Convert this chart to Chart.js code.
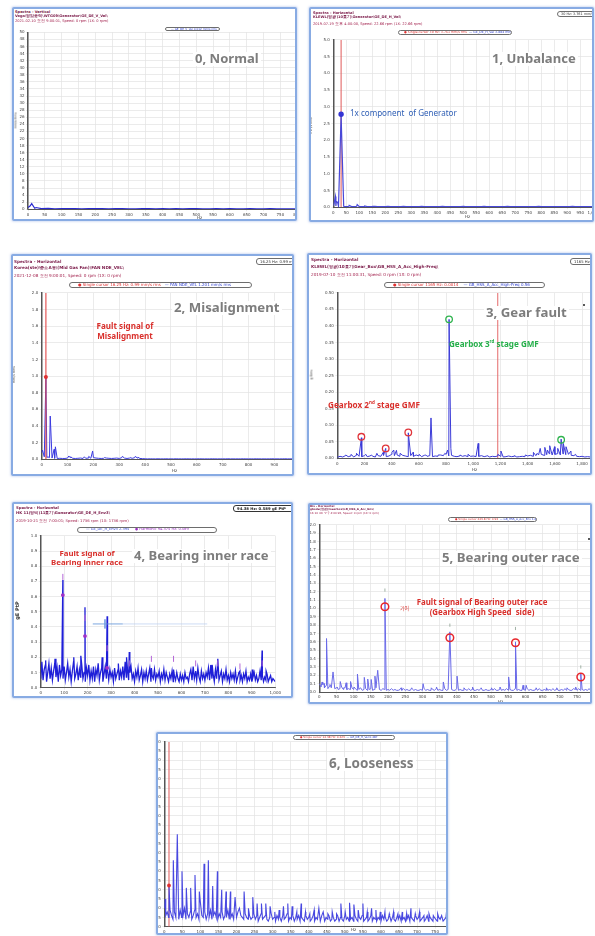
<!DOCTYPE html>
<html>
<head>
<meta charset="utf-8">
<script src="https://cdn.jsdelivr.net/npm/chart.js@4.4.1/dist/chart.umd.min.js"></script>
<style>
  body { margin:0; width:595px; height:936px; background:#fff; position:relative; overflow:hidden; font-family:"Noto Sans", sans-serif; }
  .panel { position:absolute; box-sizing:border-box; border:2px solid #88abe3; border-radius:2px; overflow:hidden; background:#fff; box-shadow:0 0 2px 1px rgba(140,170,225,0.35); }
  .panel canvas { position:absolute; }
  .t { position:absolute; white-space:nowrap; line-height:1; }
  .hdr { font-family:"DejaVu Sans", sans-serif; font-size:4px; color:#7b1a49; font-weight:700; }
  .hdr.r { font-weight:400; color:#a3224e; }
  .pill { box-sizing:border-box; border:0.8px solid #6d6d6d; border-radius:3px; background:#fff; font-family:"DejaVu Sans", sans-serif; font-size:3.4px; padding:0 5px; color:#3344cc; overflow:hidden; }
  .title { font-weight:700; color:#7d7d7d; background:#fff; padding:0 2px; font-size:16px; }
  .note { font-weight:700; font-size:9px; line-height:1.25; text-align:center; }
  .small { font-family:"DejaVu Sans", sans-serif; font-size:4px; color:#333; }
</style>
</head>
<body>
<script>
// ---------- 0, Normal (mm/s rms) ----------
const NORMAL_STEP = 20;
const NORMAL_FLOOR = [0.5,0.3,0.2,0.25,0.15,0.2,0.18,0.22,0.15,0.2,
  0.17,0.2,0.15,0.18,0.2,0.16,0.15,0.19,0.17,0.15,
  0.2,0.16,0.18,0.15,0.17,0.19,0.15,0.16,0.18,0.15,
  0.17,0.16,0.15,0.18,0.16,0.15,0.17,0.16,0.15,0.16,
  0.15];
const NORMAL_PEAK_HZ = [6, 11, 24];
const NORMAL_PEAK_AMP = [0.9, 1.6, 0.5];

// ---------- 1, Unbalance ----------
const UNB_STEP = 10;
const UNB_FLOOR = [0.05,0.04,0.03,0.05,0.03,0.02,0.03,0.02,0.02,0.03,
  0.02,0.02,0.03,0.02,0.02,0.02,0.03,0.02,0.02,0.02,
  0.02,0.03,0.02,0.02,0.02,0.02,0.02,0.03,0.02,0.02,
  0.02,0.02,0.02,0.02,0.03,0.02,0.02,0.02,0.02,0.02,
  0.02,0.02,0.03,0.02,0.02,0.02,0.02,0.02,0.02,0.02,
  0.03,0.02,0.02,0.02,0.02,0.02,0.02,0.02,0.03,0.02,
  0.02,0.02,0.02,0.02,0.02,0.02,0.02,0.03,0.02,0.02,
  0.02,0.02,0.02,0.02,0.02,0.02,0.02,0.02,0.02,0.03,
  0.02,0.02,0.02,0.02,0.02,0.02,0.02,0.02,0.02,0.02,
  0.02,0.02,0.03,0.02,0.02,0.02,0.02,0.02,0.02,0.02,
  0.02];
const UNB_PEAK_HZ = [3, 8, 12, 17, 30, 61, 92, 121, 152];
const UNB_PEAK_AMP = [0.12, 0.32, 0.18, 0.14, 2.75, 0.06, 0.08, 0.04, 0.03];
const UNB_CURSOR_HZ = 30;
const UNB_MARK = [30, 2.78];

// ---------- 2, Misalignment ----------
const MIS_STEP = 10;
const MIS_FLOOR = [0.08,0.03,0.02,0.02,0.015,0.012,0.01,0.012,0.01,0.01,
  0.015,0.02,0.012,0.01,0.012,0.015,0.01,0.012,0.015,0.012,
  0.02,0.015,0.012,0.01,0.012,0.015,0.012,0.01,0.012,0.015,
  0.01,0.02,0.015,0.01,0.015,0.012,0.02,0.015,0.01,0.008,
  0.006,0.005,0.006,0.005,0.005,0.006,0.005,0.005,0.006,0.005,
  0.005,0.005,0.006,0.005,0.005,0.005,0.006,0.005,0.005,0.005,
  0.005,0.006,0.005,0.005,0.005,0.005,0.006,0.005,0.005,0.005,
  0.005,0.005,0.006,0.005,0.005,0.005,0.005,0.005,0.006,0.005,
  0.005,0.005,0.005,0.006,0.005,0.005,0.005,0.005,0.005,0.006,
  0.005,0.005,0.005,0.005,0.006,0.005,0.005,0.005,0.005,0.005,
  0.005];
const MIS_PEAK_HZ = [3, 16.25, 24, 33, 48, 53, 105, 112, 165, 182, 197, 243, 312, 342, 362, 372];
const MIS_PEAK_AMP = [0.11, 0.99, 0.03, 0.52, 0.12, 0.15, 0.04, 0.03, 0.03, 0.035, 0.1, 0.02, 0.035, 0.02, 0.035, 0.025];
const MIS_CURSOR = [16.25, 0.99];

// ---------- 3, Gear fault ----------
const GEAR_STEP = 20;
const GEAR_FLOOR = [0.003,0.006,0.004,0.008,0.005,0.007,0.004,0.009,0.006,0.005,
  0.008,0.005,0.007,0.006,0.004,0.008,0.006,0.009,0.005,0.007,
  0.012,0.008,0.01,0.006,0.009,0.007,0.005,0.008,0.006,0.01,
  0.007,0.005,0.009,0.006,0.008,0.005,0.007,0.006,0.01,0.008,
  0.012,0.007,0.009,0.006,0.005,0.007,0.006,0.008,0.005,0.006,
  0.007,0.005,0.006,0.008,0.005,0.007,0.004,0.006,0.005,0.007,
  0.006,0.004,0.005,0.007,0.005,0.006,0.004,0.005,0.006,0.005,
  0.007,0.009,0.006,0.008,0.01,0.012,0.009,0.011,0.013,0.01,
  0.012,0.014,0.01,0.013,0.011,0.012,0.009,0.008,0.006,0.005,
  0.006,0.004,0.005,0.004,0.005,0.004,0.003,0.004,0.003,0.004,
  0.003];
const GEAR_PEAK_HZ = [62,102,141,177,210,252,291,338,356,402,415,435,462,522,557,602,651,689,742,791,811,822,835,902,961,1036,1102,1181,1203,1302,1383,1442,1470,1492,1526,1545,1562,1598,1621,1646,1662,1682,1718,1752];
const GEAR_PEAK_AMP = [0.01,0.012,0.015,0.062,0.012,0.01,0.015,0.018,0.03,0.018,0.025,0.024,0.015,0.077,0.018,0.012,0.01,0.122,0.01,0.015,0.025,0.42,0.03,0.01,0.012,0.045,0.008,0.012,0.022,0.008,0.01,0.018,0.015,0.03,0.033,0.025,0.038,0.035,0.03,0.058,0.045,0.035,0.022,0.012];
const GEAR_CURSOR_HZ = 1180;
const GEAR_RED_RING_HZ = [177, 356, 522];
const GEAR_RED_RING_Y = [0.065, 0.03, 0.078];
const GEAR_GREEN_RING_HZ = [822, 1646];
const GEAR_GREEN_RING_Y = [0.42, 0.056];

// ---------- 4, Bearing inner race (gE PtP) ----------
const INNER_STEP = 5;
const INNER_FLOOR = [0.06,0.17,0.05,0.12,0.15,0.04,0.10,0.16,0.06,0.13,
  0.05,0.11,0.16,0.07,0.13,0.04,0.15,0.08,0.12,0.06,
  0.14,0.05,0.10,0.16,0.07,0.12,0.04,0.11,0.17,0.06,
  0.09,0.14,0.05,0.12,0.07,0.15,0.06,0.10,0.04,0.13,
  0.08,0.15,0.05,0.11,0.06,0.14,0.04,0.12,0.08,0.16,
  0.05,0.10,0.13,0.04,0.09,0.14,0.06,0.11,0.05,0.12,
  0.07,0.10,0.04,0.13,0.06,0.09,0.12,0.05,0.11,0.07,
  0.14,0.05,0.17,0.07,0.12,0.05,0.10,0.14,0.06,0.09,
  0.04,0.11,0.07,0.13,0.05,0.08,0.12,0.04,0.10,0.06,
  0.11,0.05,0.09,0.13,0.04,0.08,0.06,0.12,0.05,0.09,
  0.07,0.11,0.04,0.09,0.06,0.12,0.05,0.10,0.07,0.04,
  0.09,0.06,0.11,0.04,0.08,0.05,0.10,0.06,0.04,0.09,
  0.05,0.08,0.04,0.10,0.06,0.07,0.04,0.09,0.12,0.05,
  0.14,0.06,0.10,0.05,0.13,0.07,0.04,0.11,0.06,0.09,
  0.05,0.10,0.07,0.13,0.05,0.15,0.06,0.09,0.04,0.12,
  0.06,0.10,0.05,0.08,0.11,0.04,0.09,0.06,0.12,0.05,
  0.08,0.04,0.10,0.06,0.09,0.05,0.11,0.04,0.07,0.10,
  0.05,0.08,0.04,0.09,0.06,0.11,0.04,0.07,0.05,0.09,
  0.04,0.07,0.10,0.05,0.08,0.04,0.06,0.11,0.05,0.08,
  0.04,0.07,0.05,0.09,0.04,0.06,0.08,0.04,0.06,0.05,
  0.04];
const INNER_PEAK_HZ = [21, 61, 94.4, 141, 171, 188.8, 262, 283.1, 331, 366, 377.5, 471.9, 566.3, 660.6, 731, 755, 849.4, 902, 943.8, 961];
const INNER_PEAK_AMP = [0.18, 0.19, 0.71, 0.2, 0.21, 0.53, 0.2, 0.47, 0.16, 0.2, 0.235, 0.13, 0.12, 0.11, 0.15, 0.19, 0.11, 0.12, 0.245, 0.11];
const INNER_HARM_HZ = [94.4, 188.8, 283.1, 377.5, 471.9, 566.3, 660.6, 755, 849.4, 943.8];
const INNER_HARM_LABEL_Y = [0.73, 0.46, 0.26, 0.16, 0.19, 0.19, 0.16, 0.16, 0.14, 0.16];
const INNER_HARM_DOT_Y = [0.61, 0.34, 0.13];
const INNER_CROSS_HZ = [222, 350, 710];
const INNER_CROSS_Y = 0.42;
const INNER_CROSS_V = [274, 0.45, 0.39];

// ---------- 5, Bearing outer race ----------
const OUTER_STEP = 5;
const OUTER_FLOOR = [0.1,0.06,0.09,0.05,0.08,0.04,0.07,0.05,0.06,0.04,
  0.05,0.03,0.04,0.06,0.03,0.05,0.03,0.04,0.03,0.05,
  0.03,0.04,0.02,0.03,0.05,0.02,0.03,0.04,0.02,0.03,
  0.04,0.02,0.03,0.05,0.02,0.03,0.02,0.04,0.03,0.02,
  0.03,0.02,0.04,0.02,0.03,0.02,0.02,0.03,0.02,0.04,
  0.02,0.03,0.02,0.02,0.04,0.02,0.03,0.02,0.02,0.03,
  0.02,0.04,0.02,0.03,0.02,0.02,0.03,0.02,0.04,0.02,
  0.03,0.02,0.02,0.04,0.02,0.03,0.02,0.03,0.02,0.02,
  0.04,0.02,0.03,0.02,0.02,0.03,0.02,0.04,0.02,0.03,
  0.02,0.02,0.03,0.02,0.04,0.02,0.02,0.03,0.02,0.02,
  0.03,0.02,0.04,0.02,0.02,0.03,0.02,0.03,0.02,0.04,
  0.02,0.03,0.02,0.02,0.04,0.02,0.03,0.02,0.02,0.03,
  0.02,0.04,0.02,0.03,0.02,0.02,0.03,0.02,0.04,0.02,
  0.02,0.03,0.02,0.02,0.03,0.02,0.04,0.02,0.03,0.02,
  0.02,0.03,0.02,0.04,0.02,0.03,0.02,0.02,0.04,0.03,
  0.02,0.04,0.02,0.03,0.02,0.03,0.02,0.04,0.02,0.03,
  0.02];
const OUTER_PEAK_HZ = [8,14,21,31,40,52,61,71,78,91,101,111,121,131,141,151,162,170,191,211,238,269,302,326,341,361,380,401,421,446,471,501,526,551,571,593,602,631,661,691,721,746,761];
const OUTER_PEAK_AMP = [0.12,0.1,0.64,0.09,0.24,0.06,0.125,0.05,0.11,0.125,0.06,0.215,0.05,0.175,0.155,0.15,0.19,0.26,1.12,0.04,0.05,0.05,0.1,0.05,0.06,0.12,0.72,0.19,0.05,0.06,0.05,0.05,0.06,0.18,0.6,0.08,0.08,0.05,0.05,0.05,0.05,0.06,0.22];
const OUTER_RING_HZ = [191, 380, 571, 761];
const OUTER_RING_Y = [1.02, 0.65, 0.59, 0.18];
const OUTER_TAG_Y = [1.22, 0.8, 0.76, 0.3];

// ---------- 6, Looseness ----------
const LOOSE_STEP = 4;
const LOOSE_FLOOR = [0.1,0.06,0.08,0.05,0.09,0.06,0.04,0.08,0.05,0.07,
  0.04,0.09,0.05,0.06,0.1,0.04,0.07,0.05,0.08,0.04,
  0.06,0.09,0.05,0.07,0.04,0.13,0.06,0.05,0.08,0.04,
  0.07,0.05,0.09,0.04,0.06,0.08,0.05,0.04,0.07,0.05,
  0.08,0.04,0.06,0.05,0.09,0.04,0.05,0.07,0.04,0.06,
  0.05,0.08,0.04,0.06,0.05,0.04,0.07,0.05,0.04,0.06,
  0.04,0.05,0.07,0.04,0.06,0.03,0.05,0.07,0.04,0.05,
  0.06,0.04,0.03,0.05,0.07,0.04,0.05,0.03,0.06,0.04,
  0.05,0.03,0.06,0.04,0.05,0.07,0.03,0.05,0.04,0.06,
  0.03,0.05,0.04,0.06,0.03,0.05,0.04,0.03,0.06,0.04,
  0.05,0.03,0.04,0.06,0.03,0.05,0.04,0.05,0.03,0.06,
  0.04,0.03,0.05,0.04,0.06,0.03,0.04,0.05,0.03,0.04,
  0.06,0.03,0.05,0.04,0.03,0.06,0.04,0.05,0.03,0.04,
  0.05,0.03,0.06,0.04,0.03,0.05,0.04,0.06,0.03,0.04,
  0.05,0.03,0.04,0.06,0.03,0.05,0.04,0.03,0.05,0.04,
  0.03,0.06,0.04,0.05,0.03,0.04,0.06,0.03,0.05,0.04,
  0.03,0.05,0.04,0.06,0.03,0.04,0.05,0.03,0.04,0.06,
  0.03,0.05,0.04,0.03,0.06,0.04,0.05,0.03,0.04,0.05,
  0.03,0.04,0.06,0.03,0.05,0.04,0.03,0.05,0.04,0.03,
  0.05,0.04,0.06,0.03,0.04,0.05,0.03,0.06,0.04,0.05,
  0.04];
const LOOSE_PEAK_HZ = [2,13,25,36,49,61,73,85,97,110,122,134,147,159,171,183,196,208,221,233,245,257,269,281,293,306,318,330,342,354,367,379,391,403,415,428,440,453,465,477,489,501,513,525,537,550,562,574,586,598,611,623,635,647,659,671,683,695,707,719,733,745,757,769,781,794];
const LOOSE_PEAK_AMP = [0.15,0.22,0.36,0.5,0.3,0.21,0.21,0.28,0.19,0.34,
  0.36,0.22,0.3,0.2,0.19,0.19,0.16,0.1,0.19,0.1,
  0.16,0.125,0.125,0.125,0.11,0.08,0.09,0.11,0.125,0.11,
  0.08,0.125,0.08,0.07,0.09,0.1,0.08,0.07,0.08,0.07,
  0.125,0.08,0.13,0.12,0.09,0.125,0.08,0.1,0.09,0.08,
  0.08,0.07,0.08,0.07,0.08,0.07,0.1,0.07,0.08,0.06,
  0.07,0.06,0.07,0.06,0.07,0.08];
const LOOSE_CURSOR = [13, 0.223];

// axis ranges: [xMax, xStep, yMax, yStep, yDecimals]
const AXES = [
  [800, 50, 50, 2, 0],
  [1000, 50, 5, 0.5, 1],
  [1000, 100, 2, 0.2, 1],
  [2000, 200, 0.5, 0.05, 2],
  [1000, 100, 1, 0.1, 1],
  [800, 50, 2, 0.1, 1],
  [800, 50, 1, 0.05, 2],
];

// page geometry: box [l,t,r,b], canvas [l,t,r,b], plot [x of 0 Hz, top, bottom]
const LAYOUT = [
  { box:[12,7,297,221],   canvas:[14,28,302,221],   plot:[28,32.3,209.3] },
  { box:[309,7,594,222],  canvas:[311,36,600,222],  plot:[333.3,37.7,207.3] },
  { box:[11,254,294,476], canvas:[13,289,307,476],  plot:[41.7,290.7,459.3] },
  { box:[307,253,592,475],canvas:[309,289,616,475], plot:[337.3,290.7,458.3] },
  { box:[12,502,293,698], canvas:[14,532,282,700],  plot:[40.7,534,687.7] },
  { box:[308,503,592,704],canvas:[310,521,599,704], plot:[319.3,523.3,692] },
  { box:[156,732,448,935],canvas:[158,738,458,935], plot:[164.3,740,926.7] },
];

Chart.defaults.font.family = "DejaVu Sans";

const panels = LAYOUT.map((g) => {
  const el = document.createElement("div");
  el.className = "panel";
  const [l, t, r, b] = g.box;
  el.style.left = l + "px";
  el.style.top = t + "px";
  el.style.width = (r - l) + "px";
  el.style.height = (b - t) + "px";
  document.body.appendChild(el);
  return el;
});

function spectrum(floor, step, peakHz, peakAmp) {
  const pts = floor.map((y, i) => ({ x: i * step, y })).filter((p) => !peakHz.includes(p.x));
  peakHz.forEach((x, i) => pts.push({ x, y: peakAmp[i] }));
  return pts.sort((a, b) => a.x - b.x);
}

function trace(data, color, width) {
  return { data, borderColor: color, borderWidth: width, pointRadius: 0, tension: 0 };
}

function vline(x, y0, y1, color, width) {
  return { data: [{ x, y: y0 }, { x, y: y1 }], borderColor: color, borderWidth: width, pointRadius: 0 };
}

function marks(hz, ys, color, radius, opts = {}) {
  return Object.assign({
    data: hz.map((x, i) => ({ x, y: ys[i] })),
    showLine: false,
    pointRadius: radius,
    pointBorderColor: color,
    pointBackgroundColor: "rgba(0,0,0,0)",
    pointBorderWidth: 1.4,
    pointStyle: "circle",
  }, opts);
}

function buildChart(idx, datasets) {
  const g = LAYOUT[idx];
  const [xMax, xStep, yMax, yStep, dec] = AXES[idx];
  const [cl, ct, cr, cb] = g.canvas;
  const [x0, top, bottom] = g.plot;
  const cv = document.createElement("canvas");
  cv.width = cr - cl;
  cv.height = cb - ct;
  cv.style.left = (cl - g.box[0] - 2) + "px";
  cv.style.top = (ct - g.box[1] - 2) + "px";
  panels[idx].appendChild(cv);
  const grid = { color: "#e2e2e2", lineWidth: 0.7, tickLength: 2 };
  return new Chart(cv, {
    type: "line",
    data: { datasets },
    options: {
      responsive: false,
      animation: false,
      events: [],
      layout: { autoPadding: false, padding: { top: top - ct, left: 0, right: 0, bottom: 0 } },
      plugins: { legend: { display: false }, tooltip: { enabled: false } },
      scales: {
        x: {
          type: "linear", min: 0, max: xMax,
          ticks: { stepSize: xStep, autoSkip: false, maxRotation: 0, font: { size: 4 }, color: "#444", padding: 1 },
          grid, border: { color: "#555", width: 1 },
          afterFit(s) { s.height = cb - bottom; },
        },
        y: {
          min: 0, max: yMax,
          ticks: { stepSize: yStep, autoSkip: false, font: { size: 4 }, color: "#444", padding: 1.5, callback: (v) => v.toFixed(dec) },
          grid, border: { color: "#555", width: 1.5 },
          afterFit(s) { s.width = x0 - cl; },
        },
      },
    },
  });
}

// ---------- charts ----------
buildChart(0, [
  trace(spectrum(NORMAL_FLOOR, NORMAL_STEP, NORMAL_PEAK_HZ, NORMAL_PEAK_AMP), "#2a2ad0", 1.2),
]);

buildChart(1, [
  marks([UNB_MARK[0]], [UNB_MARK[1]], "#3434d4", 2, { pointBackgroundColor: "#3434d4" }),
  trace(spectrum(UNB_FLOOR, UNB_STEP, UNB_PEAK_HZ, UNB_PEAK_AMP), "#4848d8", 1.2),
  vline(UNB_CURSOR_HZ, 0, 5, "#e05a5a", 1),
]);

buildChart(2, [
  marks([MIS_CURSOR[0]], [MIS_CURSOR[1]], "#e03030", 1.3, { pointBackgroundColor: "#e03030" }),
  vline(MIS_CURSOR[0], 0, 2, "#e24848", 1.1),
  trace(spectrum(MIS_FLOOR, MIS_STEP, MIS_PEAK_HZ, MIS_PEAK_AMP), "#3b3be0", 1),
]);

buildChart(3, [
  marks(GEAR_RED_RING_HZ, GEAR_RED_RING_Y, "#e0343a", 3.3, { pointBorderWidth: 1.3 }),
  marks(GEAR_GREEN_RING_HZ, GEAR_GREEN_RING_Y, "#2fb34e", 3.3, { pointBorderWidth: 1.3 }),
  trace(spectrum(GEAR_FLOOR, GEAR_STEP, GEAR_PEAK_HZ, GEAR_PEAK_AMP), "#3c3cd8", 1),
  vline(GEAR_CURSOR_HZ, 0, 0.5, "#e56a6a", 1),
]);

buildChart(4, [
  marks(INNER_HARM_HZ.slice(0, 3), INNER_HARM_DOT_Y, "#a030c8", 1.2, { pointBackgroundColor: "#a030c8" }),
  marks(INNER_HARM_HZ, INNER_HARM_LABEL_Y, "#b466d8", 3, { pointStyle: "line", rotation: 90, pointBorderWidth: 1 }),
  vline(INNER_CROSS_V[0], INNER_CROSS_V[1], INNER_CROSS_V[2], "#6f9be0", 0.8),
  { data: [{ x: INNER_CROSS_HZ[0], y: INNER_CROSS_Y }, { x: INNER_CROSS_HZ[1], y: INNER_CROSS_Y }], borderColor: "#5b8fd8", borderWidth: 0.8, pointRadius: 0 },
  { data: [{ x: INNER_CROSS_HZ[1], y: INNER_CROSS_Y }, { x: INNER_CROSS_HZ[2], y: INNER_CROSS_Y }], borderColor: "#b7cdf0", borderWidth: 0.7, pointRadius: 0 },
  trace(spectrum(INNER_FLOOR, INNER_STEP, INNER_PEAK_HZ, INNER_PEAK_AMP), "#1f1fd8", 1.3),
]);

buildChart(5, [
  marks(OUTER_RING_HZ, OUTER_RING_Y, "#e8262c", 3.8, { pointBorderWidth: 1.5 }),
  marks(OUTER_RING_HZ, OUTER_TAG_Y, "#8aa090", 1.6, { pointStyle: "line", rotation: 90, pointBorderWidth: 0.8 }),
  trace(spectrum(OUTER_FLOOR, OUTER_STEP, OUTER_PEAK_HZ, OUTER_PEAK_AMP), "#6b6be8", 1),
]);

buildChart(6, [
  marks([LOOSE_CURSOR[0]], [LOOSE_CURSOR[1]], "#e03030", 1.2, { pointBackgroundColor: "#e03030" }),
  trace(spectrum(LOOSE_FLOOR, LOOSE_STEP, LOOSE_PEAK_HZ, LOOSE_PEAK_AMP), "#4848e0", 1.1),
  vline(LOOSE_CURSOR[0], 0, 1, "#e05a5a", 1),
]);

// ---------- text overlays ----------
function put(p, x, y, html, cls, css) {
  const el = document.createElement("div");
  el.className = "t " + (cls || "");
  el.innerHTML = html;
  if (css) el.style.cssText += css;
  el.style.left = (x - LAYOUT[p].box[0] - 2) + "px";
  el.style.top = (y - LAYOUT[p].box[1] - 2) + "px";
  panels[p].appendChild(el);
  return el;
}

function fitted(p, html, x, cy, width, cls, css, centered) {
  const el = put(p, x, cy, html, cls, css);
  const fs = parseFloat(getComputedStyle(el).fontSize);
  el.style.fontSize = (fs * width / el.getBoundingClientRect().width) + "px";
  const r = el.getBoundingClientRect();
  el.style.top = (cy - r.height / 2 - LAYOUT[p].box[1] - 2) + "px";
  if (centered) el.style.left = (x - r.width / 2 - LAYOUT[p].box[0] - 2) + "px";
  return el;
}

function header(p, x, ys, lines, size) {
  lines.forEach((txt, i) => put(p, x, ys[i], txt, "hdr" + (i === 2 ? " r" : ""), "font-size:" + size + "px"));
}

function pill(p, x, y, w, h, html, css) {
  return put(p, x, y, html, "pill", "width:" + w + "px;height:" + h + "px;line-height:" + (h - 1.6) + "px;" + (css || ""));
}

function hz(p, x, y) {
  put(p, x - 2, y - 2, "Hz", "small");
}

function ytitle(p, x, y, txt, css) {
  const el = put(p, x, y, txt, "small", css);
  const r = el.getBoundingClientRect();
  el.style.left = (x - r.width / 2 - LAYOUT[p].box[0] - 2) + "px";
  el.style.top = (y - r.height / 2 - LAYOUT[p].box[1] - 2) + "px";
  el.style.transform = "rotate(-90deg)";
}

const RED = "#d9302c", GREEN = "#26b04b", BLUE = "#2f5fb5";
const C_RED = '<span style="color:#e03030">● Single cursor ';
const C_BLUE = '<span style="color:#3040d0">— ';

// 0
header(0, 15, [10.5, 15, 19.5], ["Spectra - Vertical", "Vega\\영암풍력\\WTG09\\Generator\\GE_DE_V_Vel\\", "2021-02-10 오전 9:00:01, Speed: 0 rpm (1X: 0 rpm)"], 3.6);
pill(0, 165, 26.8, 55, 4.6, C_BLUE + "GE_DE_V_Vel 0.012 mm/s rms</span>", "font-size:2.8px");
ytitle(0, 16, 120, "mm/s Rms", "font-size:3px");
hz(0, 199, 218);
fitted(0, "0, Normal", 193, 59, 67, "title");

// 1
header(1, 313, [11.5, 16, 22.5], ["Spectra - Horizontal", "KLEWL(영광)10호기\\Generator\\GE_DE_H_Vel\\", "2019-07-19 오후 4:00:00, Speed: 22.66 rpm (1X: 22.66 rpm)"], 3.6);
pill(1, 557, 11, 45, 6, '<span style="color:#333">30 Hz: 3.761 mm/s rms</span>', "font-size:3.4px;padding:0 3px");
pill(1, 398, 30, 114, 5.2, C_RED + "30 Hz: 3.761 mm/s rms</span>&nbsp;&nbsp;" + C_BLUE + "GE_DE_H_Vel 3.884 mm/s rms</span>", "font-size:3.2px");
ytitle(1, 312, 125, "mm/s Rms", "font-size:3px");
hz(1, 467, 216.5);
fitted(1, "1, Unbalance", 490, 59, 87, "title");
fitted(1, "1x component&nbsp; of Generator", 350, 113, 107, "", "color:" + BLUE + ";font-size:8px");

// 2
header(2, 14, [259.5, 265.5, 273.5], ["Spectra - Horizontal", "Korea(ste)\\중소A동\\(Mid Gas Fan)\\FAN NDE_VEL\\", "2021-12-08 오전 9:00:01, Speed: 0 rpm (1X: 0 rpm)"], 4.2);
pill(2, 256, 258, 46, 7, '<span style="color:#333">16.25 Hz: 0.99 mm/s rms</span>', "font-size:3.8px;padding:0 3px");
pill(2, 69, 282, 183, 6, C_RED + "16.25 Hz: 0.99 mm/s rms</span>&nbsp;&nbsp;&nbsp;" + C_BLUE + "FAN NDE_VEL 1.201 mm/s rms</span>", "font-size:4px;padding:0 8px");
ytitle(2, 14.5, 375, "mm/s Rms", "font-size:3.2px");
hz(2, 174, 470.5);
fitted(2, "2, Misalignment", 172, 308, 109, "title");
fitted(2, "Fault signal of<br>Misalignment", 125, 331, 57, "note", "color:" + RED, true);

// 3
header(3, 311, [257.5, 264.5, 272.5], ["Spectra - Horizontal", "KLEWL(영광)10호기\\Gear_Box\\GB_HSS_A_Acc_High-Freq\\", "2019-07-10 오전 11:00:31, Speed: 0 rpm (1X: 0 rpm)"], 4.2);
pill(3, 570, 258, 40, 7, '<span style="color:#333">1165 Hz: 0.0014 g</span>', "font-size:3.8px;padding:0 3px");
pill(3, 384, 282, 161, 6, C_RED + "1165 Hz: 0.0014</span>&nbsp;&nbsp;&nbsp;&nbsp;" + C_BLUE + "GB_HSS_A_Acc_High-Freq 0.56</span>", "font-size:4px;padding:0 8px");
ytitle(3, 312, 375, "g Rms", "font-size:3.2px");
hz(3, 474, 470);
fitted(3, "3, Gear fault", 484, 313, 84, "title");
fitted(3, "Gearbox 2<sup style='font-size:55%'>nd</sup> stage GMF", 328, 405, 92, "note", "color:" + RED);
fitted(3, "Gearbox 3<sup style='font-size:55%'>rd</sup> stage GMF", 449, 344, 90, "note", "color:" + GREEN);
put(3, 583, 304, "", "", "width:2px;height:2px;border-radius:1px;background:#222");

// 4
header(4, 16, [506, 510.5, 518.5], ["Spectra - Horizontal", "HK 11(영덕)11호기\\Generator\\GE_DE_H_Env3\\", "2019-10-21 오전 7:00:01; Speed: 1736 rpm (1X: 1736 rpm)"], 3.8);
pill(4, 233, 505, 62, 7, '<span style="color:#222;font-weight:700">94.38 Hz: 0.589 gE PtP</span>', "font-size:3.8px;padding:0 3px;border:1.2px solid #333");
pill(4, 77, 527, 140, 5.5, C_BLUE + "GE_DE_H_Env3 2.395</span>&nbsp;&nbsp;&nbsp;&nbsp;&nbsp;<span style=\"color:#9a30c0\">● Harmonic 94.375 Hz: 0.589</span>", "font-size:3.6px;padding:0 8px");
ytitle(4, 17.5, 610, "gE PtP", "font-size:5px;font-weight:700");
hz(4, 161, 698);
fitted(4, "4, Bearing inner race", 132, 556, 138, "title");
fitted(4, "Fault signal of<br>Bearing inner race", 87, 558, 72, "note", "color:" + RED + ";line-height:1.15", true);

// 5
header(5, 310, [504.5, 508, 511.5], ["Dis - Horizontal", "gbsde(영광)\\Gearbox\\GB_HSS_A_Acc_Env\\", "16-10-06 오후 4:00:26, Speed: 0 rpm (1X: 0 rpm)"], 2.8);
pill(5, 448, 517, 89, 5, C_RED + "243.8 Hz: 0.93</span>&nbsp;&nbsp;" + C_BLUE + "GB_HSS_A_Acc_Env 1.82</span>", "font-size:2.8px;padding:0 6px");
hz(5, 500, 702);
fitted(5, "5, Bearing outer race", 440, 558, 141, "title");
fitted(5, "Fault signal of Bearing outer race<br>(Gearbox High Speed&nbsp; side)", 482, 607.5, 131, "note", "color:" + RED + ";line-height:1.25", true);
fitted(5, "기어", 400, 608, 9, "", "color:" + RED + ";font-size:5px;font-family:'Noto Sans CJK KR'");
put(5, 588, 538, "", "", "width:2px;height:2px;border-radius:1px;background:#222");

// 6
pill(6, 293, 735, 102, 4.6, C_RED + "14.38 Hz: 0.223</span>&nbsp;&nbsp;" + C_BLUE + "GE_DE_H_Vel 0.487</span>", "font-size:2.8px;padding:0 6px");
hz(6, 353, 930);
fitted(6, "6, Looseness", 327, 764, 88, "title");
</script>
</body>
</html>
